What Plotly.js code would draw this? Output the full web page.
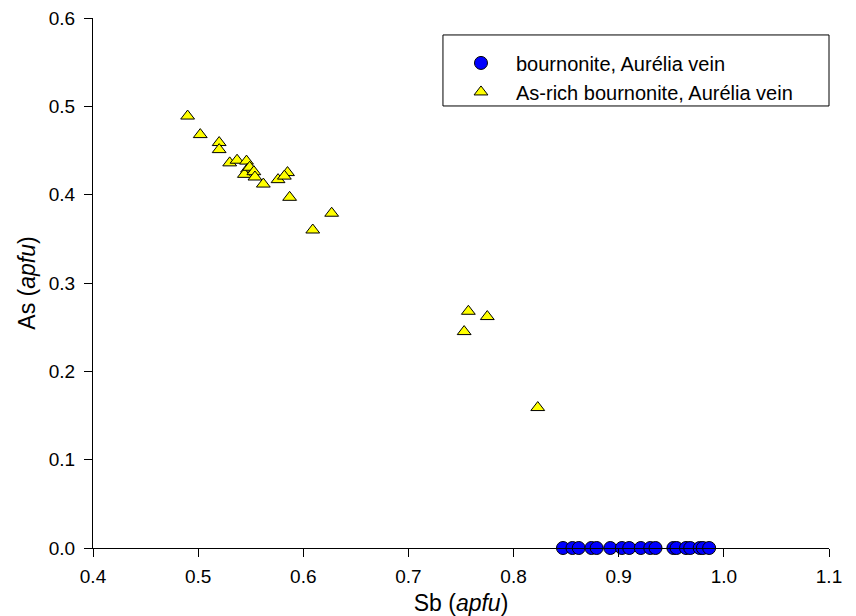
<!DOCTYPE html>
<html>
<head>
<meta charset="utf-8">
<script src="https://cdn.plot.ly/plotly-3.0.1.min.js"></script>
<style>html,body{margin:0;padding:0;background:#fff;}#chart{width:856px;height:616px;}</style>
</head>
<body>
<div id="chart"></div>
<script>
// Bournonite, Aurélia vein (As = 0)
var bournoniteSb = [0.847, 0.856, 0.862, 0.874, 0.879, 0.892, 0.903, 0.910, 0.921, 0.930, 0.935, 0.952, 0.955, 0.964, 0.968, 0.977, 0.980, 0.986];
var bournoniteAs = [0, 0, 0, 0, 0, 0, 0, 0, 0, 0, 0, 0, 0, 0, 0, 0, 0, 0];

// As-rich bournonite, Aurélia vein
var asRichSb = [0.490, 0.502, 0.520, 0.520, 0.530, 0.537, 0.546, 0.547, 0.544, 0.549, 0.553, 0.554, 0.562, 0.576, 0.585, 0.582, 0.587, 0.609, 0.627, 0.753, 0.757, 0.775, 0.823];
var asRichAs = [0.489, 0.468, 0.459, 0.451, 0.436, 0.439, 0.438, 0.429, 0.423, 0.431, 0.426, 0.420, 0.412, 0.417, 0.425, 0.421, 0.397, 0.360, 0.379, 0.245, 0.268, 0.262, 0.159];

var xTicks = [0.4, 0.5, 0.6, 0.7, 0.8, 0.9, 1.0, 1.1];
var xTickText = ["0.4", "0.5", "0.6", "0.7", "0.8", "0.9", "1.0", "1.1"];
var yTicks = [0.0, 0.1, 0.2, 0.3, 0.4, 0.5, 0.6];
var yTickText = ["0.0", "0.1", "0.2", "0.3", "0.4", "0.5", "0.6"];

var font = "Liberation Sans, Arial, sans-serif";

var traces = [
  {
    x: bournoniteSb, y: bournoniteAs, type: "scatter", mode: "markers",
    name: "bournonite, Aurélia vein", cliponaxis: false,
    marker: {symbol: "circle", size: 13, color: "#0000ff", line: {color: "#000", width: 1}}
  },
  {
    x: asRichSb, y: asRichAs, type: "scatter", mode: "markers",
    name: "As-rich bournonite, Aurélia vein", cliponaxis: false,
    marker: {symbol: "triangle-up", size: 12, color: "#ffff00", line: {color: "#000", width: 1}}
  }
];

var layout = {
  width: 856, height: 616,
  margin: {l: 93, r: 27, t: 18, b: 68},
  paper_bgcolor: "#fff", plot_bgcolor: "#fff",
  font: {family: font, color: "#000", size: 18},
  showlegend: true,
  legend: {
    x: 0.4796, y: 0.952, xanchor: "left", yanchor: "top",
    borderwidth: 0, bgcolor: "rgba(0,0,0,0)",
    font: {family: font, size: 20, color: "#000"},
    tracegroupgap: 0, itemsizing: "trace", itemwidth: 60
  },
  shapes: [
    {type: "rect", xref: "paper", yref: "paper", x0: 0.4755, x1: 1.0, y0: 0.834, y1: 0.968,
     line: {color: "#000", width: 1}, fillcolor: "rgba(0,0,0,0)", layer: "below"}
  ],
  xaxis: {
    range: [0.4, 1.1], tickvals: xTicks, ticktext: xTickText,
    showgrid: false, zeroline: false, showline: true, linecolor: "#000", linewidth: 1,
    ticks: "outside", ticklen: 8, tickcolor: "#000", ticklabelstandoff: 3,
    tickfont: {family: font, size: 19},
    title: {text: "Sb (<i>apfu</i>)", font: {family: font, size: 23}, standoff: 9}
  },
  yaxis: {
    range: [0, 0.6], tickvals: yTicks, ticktext: yTickText,
    showgrid: false, zeroline: false, showline: true, linecolor: "#000", linewidth: 1,
    ticks: "outside", ticklen: 8, tickcolor: "#000", ticklabelstandoff: 5,
    tickfont: {family: font, size: 19},
    title: {text: "As (<i>apfu</i>)", font: {family: font, size: 23}, standoff: 6}
  }
};

Plotly.newPlot("chart", traces, layout, {displayModeBar: false, staticPlot: true});
</script>
</body>
</html>
